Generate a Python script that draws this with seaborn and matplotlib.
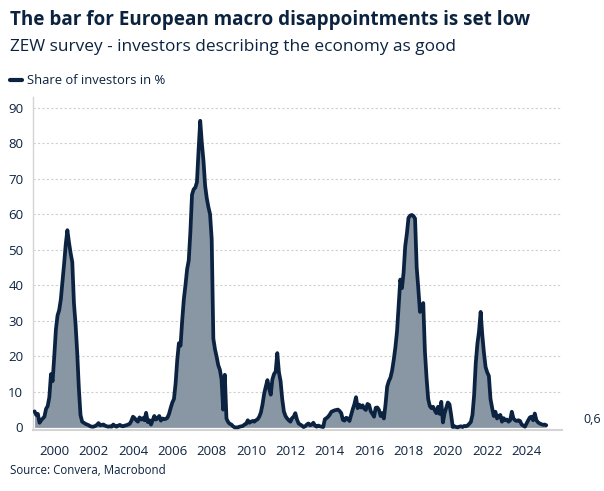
import numpy as np
import pandas as pd
import matplotlib
matplotlib.use("Agg")
import matplotlib.pyplot as plt
from matplotlib.lines import Line2D
import seaborn as sns

# Monthly share of investors describing the economy as good (%), Jan 1999 - Jan 2025
v1999 = [4.5, 3.5, 3.8, 1.3, 2.0, 2.5, 3.0, 5.2, 6.0, 8.5, 15.0, 13.0]
v2000 = [20.0, 27.5, 31.5, 33.0, 36.0, 41.0, 46.0, 51.5, 55.5, 52.0, 49.0, 46.5]
v2001 = [35.0, 29.0, 21.0, 11.0, 3.5, 1.6, 1.3, 1.0, 0.8, 0.6, 0.3, 0.2]
v2002 = [0.2, 0.4, 0.7, 1.2, 0.6, 0.7, 0.8, 0.5, 0.3, 0.2, 0.3, 0.2]
v2003 = [0.8, 0.4, 0.2, 0.5, 0.7, 0.4, 0.3, 0.5, 0.6, 0.8, 1.0, 1.8]
v2004 = [3.0, 2.6, 2.0, 1.6, 2.8, 2.2, 2.6, 2.0, 4.1, 1.5, 2.0, 0.8]
v2005 = [2.0, 3.2, 2.2, 2.6, 3.2, 1.9, 2.5, 2.3, 2.4, 2.7, 3.8, 5.5]
v2006 = [7.0, 8.0, 12.4, 19.0, 23.7, 23.0, 30.0, 36.0, 40.0, 44.5, 47.0, 55.0]
v2007 = [65.5, 67.0, 67.5, 69.0, 78.0, 86.3, 80.0, 75.0, 68.0, 64.5, 62.0, 60.0]
v2008 = [53.0, 25.0, 22.0, 19.9, 17.5, 16.2, 13.5, 5.0, 14.8, 2.5, 1.5, 1.0]
v2009 = [0.8, 0.3, 0.0, 0.0, 0.0, 0.2, 0.3, 0.4, 0.8, 1.0, 2.0, 1.3]
v2010 = [1.6, 1.8, 1.6, 2.0, 2.3, 3.0, 4.2, 6.5, 9.5, 11.5, 13.3, 11.0]
v2011 = [9.2, 13.5, 15.0, 15.7, 20.9, 15.5, 13.0, 8.0, 4.5, 3.2, 2.5, 2.0]
v2012 = [1.6, 2.6, 3.0, 4.0, 2.2, 1.1, 0.8, 0.5, 0.1, 0.3, 0.8, 1.1]
v2013 = [0.6, 0.8, 1.3, 0.5, 0.2, 0.5, 0.3, 0.2, 0.1, 2.3, 2.6, 3.0]
v2014 = [3.6, 4.4, 4.6, 4.8, 4.9, 5.0, 4.6, 4.0, 2.1, 1.9, 2.7, 2.5]
v2015 = [1.8, 3.5, 5.1, 6.5, 8.5, 5.4, 6.4, 5.6, 6.2, 5.3, 4.9, 6.6]
v2016 = [6.3, 4.5, 3.8, 3.0, 5.5, 5.6, 4.9, 3.2, 4.0, 2.5, 6.5, 11.5]
v2017 = [13.0, 14.0, 16.0, 19.0, 22.5, 27.0, 34.5, 41.6, 39.2, 43.5, 51.0, 54.5]
v2018 = [59.0, 59.6, 59.8, 59.5, 58.8, 45.0, 39.0, 32.5, 33.5, 35.0, 21.5, 14.0]
v2019 = [8.0, 6.0, 5.4, 5.8, 4.8, 4.0, 5.8, 3.8, 7.2, 1.4, 4.0, 5.5]
v2020 = [7.0, 6.5, 3.5, 0.1, 0.3, 0.1, 0.0, 0.2, 0.3, 0.1, 0.4, 0.3]
v2021 = [0.5, 1.0, 1.5, 3.5, 9.0, 18.0, 23.5, 27.0, 32.5, 26.0, 21.0, 17.0]
v2022 = [15.5, 14.5, 8.0, 5.5, 3.2, 4.4, 2.5, 3.2, 3.5, 1.6, 2.6, 2.0]
v2023 = [2.2, 1.6, 2.0, 4.4, 2.5, 2.0, 1.8, 2.0, 1.8, 0.8, 0.5, 0.2]
v2024 = [1.1, 2.0, 2.8, 3.0, 2.0, 3.9, 2.0, 1.4, 1.1, 0.9, 0.7, 0.8]
v2025 = [0.6]

start_year = 1999
tick_years = list(range(2000, 2025, 2))
y_ticks = list(range(0, 100, 10))

title = "The bar for European macro disappointments is set low"
subtitle = "ZEW survey - investors describing the economy as good"
legend_label = "Share of investors in %"
source = "Source: Convera, Macrobond"

values = (v1999 + v2000 + v2001 + v2002 + v2003 + v2004 + v2005 + v2006 + v2007
          + v2008 + v2009 + v2010 + v2011 + v2012 + v2013 + v2014 + v2015 + v2016
          + v2017 + v2018 + v2019 + v2020 + v2021 + v2022 + v2023 + v2024 + v2025)
t = start_year + np.arange(len(values)) / 12.0
df = pd.DataFrame({"t": t, "share": values})

navy = "#0b2341"
fill_c = "#8996a3"
text_c = "#0c2340"
grid_c = "#cfcfcf"
spine_c = "#d4d4d4"

sns.set_theme(style="white")
plt.rcParams["font.family"] = ["Open Sans", "DejaVu Sans"]

fig = plt.figure(figsize=(6.04, 4.91), dpi=100)
ax = fig.add_axes([33 / 604, 1 - 429.5 / 491, (562 - 33) / 604, (429.5 - 97) / 491])

ax.fill_between(df["t"], 0, df["share"], color=fill_c, lw=0, zorder=2)
sns.lineplot(data=df, x="t", y="share", ax=ax, color=navy, lw=2.7, zorder=3,
             solid_joinstyle="round", solid_capstyle="round")

ax.set_xlim(1998.92, 2025.80)
ax.set_ylim(-0.6, 93)
ax.set_xticks(tick_years)
ax.set_xticklabels([str(y) for y in tick_years])
ax.set_yticks(y_ticks)
ax.set_xlabel("")
ax.set_ylabel("")

for yv in y_ticks[1:]:
    ax.axhline(yv, color=grid_c, lw=0.8, ls=(0, (2, 2)), zorder=1)

for s in ["top", "right"]:
    ax.spines[s].set_visible(False)
ax.spines["left"].set_color(spine_c)
ax.spines["bottom"].set_color(spine_c)
ax.spines["left"].set_linewidth(1.0)
ax.spines["bottom"].set_linewidth(1.5)

ax.tick_params(axis="x", direction="out", length=4, width=1, color="#333333",
               labelsize=9.5, labelcolor=text_c, pad=7)
ax.tick_params(axis="y", direction="out", length=4, width=1, color="#9a9a9a",
               labelsize=9.5, labelcolor=text_c, pad=3)

last = values[-1]
ax.annotate(f"{last:.1f}".replace(".", ","), xy=(t[-1], last), xytext=(27, 4),
            textcoords="offset points", fontsize=9, color=text_c,
            ha="left", va="center", annotation_clip=False)

fig.text(10 / 604, 1 - 20 / 491, title, fontsize=13.55, fontweight="bold",
         color=text_c, ha="left", va="center")
fig.text(10 / 604, 1 - 47 / 491, subtitle, fontsize=12.45, color=text_c,
         ha="left", va="center")
fig.add_artist(Line2D([10 / 604, 22 / 604], [1 - 80 / 491] * 2, color=navy, lw=3,
                      transform=fig.transFigure))
fig.text(27 / 604, 1 - 80 / 491, legend_label, fontsize=9.4, color=text_c,
         ha="left", va="center")
fig.text(10 / 604, 1 - 471 / 491, source, fontsize=8.3, color=text_c,
         ha="left", va="center")

fig.savefig("out.png", dpi=100)
